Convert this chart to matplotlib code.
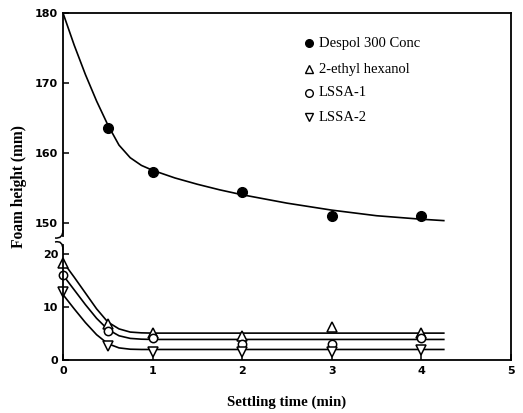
import matplotlib
matplotlib.use("Agg")
import matplotlib.pyplot as plt
from matplotlib.lines import Line2D
from matplotlib.path import Path
from matplotlib.patches import PathPatch

# ---- data ----
t_points = [0.5, 1, 2, 3, 4]
despol_pts = [163.6, 157.3, 154.4, 151.0, 151.0]
t_low = [0, 0.5, 1, 2, 3, 4]
ethyl_pts = [18.3, 6.7, 5.0, 4.5, 6.2, 5.0]
lssa1_pts = [16.1, 5.4, 4.0, 3.0, 3.0, 4.0]
lssa2_pts = [12.7, 2.6, 1.5, 1.5, 1.5, 1.8]

# fitted curves
t_despol_curve = [0, 0.125, 0.25, 0.375, 0.5, 0.625, 0.75, 0.875, 1.0, 1.25, 1.5,
                  1.75, 2.0, 2.5, 3.0, 3.5, 4.0, 4.25]
despol_curve = [180.0, 175.4, 171.2, 167.4, 164.0, 161.1, 159.3, 158.2, 157.5, 156.4,
                155.5, 154.7, 154.0, 152.8, 151.8, 151.0, 150.5, 150.3]
t_low_curve = [0, 0.125, 0.25, 0.375, 0.5, 0.625, 0.75, 0.875, 1.0, 2.0, 3.0, 4.0, 4.25]
ethyl_curve = [18.5, 15.6, 12.6, 9.6, 7.1, 5.8, 5.2, 5.05, 5.0, 5.0, 5.0, 5.0, 5.0]
lssa1_curve = [16.0, 13.2, 10.4, 7.8, 5.7, 4.5, 4.0, 3.85, 3.8, 3.8, 3.8, 3.8, 3.8]
lssa2_curve = [12.3, 9.6, 7.0, 4.7, 3.0, 2.2, 1.95, 1.9, 1.9, 1.9, 1.9, 1.9, 1.9]

labels = ["Despol 300 Conc", "2-ethyl hexanol", "LSSA-1", "LSSA-2"]
x_ticks = [0, 1, 2, 3, 4, 5]
upper_ticks = [150, 160, 170, 180]
lower_ticks = [0, 10, 20]

W, H = 523, 413
fig = plt.figure(figsize=(W / 100, H / 100), dpi=100)

L, R = 63, 511
top_up, bot_up = 13, 236
top_lo, bot_lo = 245, 359.5

def rect(top, bot):
    return [L / W, 1 - bot / H, (R - L) / W, (bot - top) / H]

ax_up = fig.add_axes(rect(top_up, bot_up))
ax_lo = fig.add_axes(rect(top_lo, bot_lo))

lw = 1.2

for ax in (ax_up, ax_lo):
    ax.set_xlim(0, 5)
    ax.spines["right"].set_visible(False)
    for s in ax.spines.values():
        s.set_linewidth(1.3)
    ax.tick_params(direction="in", length=4, width=1.1, right=False, top=False)

ax_up.set_ylim(148.1, 180)
ax_up.set_yticks(upper_ticks)
ax_up.spines["bottom"].set_visible(False)
ax_up.set_xticks([])
ax_lo.set_ylim(0, 21.7)
ax_lo.set_yticks(lower_ticks)
ax_lo.spines["top"].set_visible(False)
ax_lo.set_xticks(x_ticks)

for ax in (ax_up, ax_lo):
    for lab in ax.get_yticklabels() + ax.get_xticklabels():
        lab.set_fontfamily("DejaVu Sans")
        lab.set_fontweight("bold")
        lab.set_fontsize(8)
ax_lo.tick_params(axis="x", pad=5)

# curves
ax_up.plot(t_despol_curve, despol_curve, color="black", lw=lw)
ax_up.plot(t_points, despol_pts, "o", color="black", ms=7, ls="none")

ax_lo.plot(t_low_curve, ethyl_curve, color="black", lw=lw)
ax_lo.plot(t_low_curve, lssa1_curve, color="black", lw=lw)
ax_lo.plot(t_low_curve, lssa2_curve, color="black", lw=lw)
ax_lo.plot(t_low, ethyl_pts, "^", mfc="white", mec="black", mew=1.1, ms=6.5, ls="none", clip_on=False)
ax_lo.plot(t_low, lssa1_pts, "o", mfc="white", mec="black", mew=1.1, ms=6, ls="none", clip_on=False)
ax_lo.plot(t_low, lssa2_pts, "v", mfc="white", mec="black", mew=1.1, ms=6.5, ls="none", clip_on=False)

# continuous right frame line
fig.add_artist(Line2D([R / W, R / W], [1 - bot_lo / H, 1 - top_up / H],
                      transform=fig.transFigure, color="black", lw=1.3))

# break marks on left axis (figure pixel coords -> figure fraction)
def fp(x, y):
    return (x / W, 1 - y / H)

up_path = Path([fp(63, 230), fp(63, 239), fp(55, 238)],
               [Path.MOVETO, Path.CURVE3, Path.CURVE3])
lo_path = Path([fp(63, 250), fp(63, 240), fp(55, 242)],
               [Path.MOVETO, Path.CURVE3, Path.CURVE3])
for p in (up_path, lo_path):
    fig.add_artist(PathPatch(p, transform=fig.transFigure, fill=False, lw=1.1, color="black"))

# legend (manual)
leg_y = [43, 69, 93, 117]
leg_markers = [dict(marker="o", mfc="black"), dict(marker="^", mfc="white"),
               dict(marker="o", mfc="white"), dict(marker="v", mfc="white")]
for y, m, lab in zip(leg_y, leg_markers, labels):
    fig.add_artist(Line2D([309 / W], [1 - y / H], transform=fig.transFigure,
                          marker=m["marker"], mfc=m["mfc"], mec="black", mew=1.0,
                          ms=5.5, ls="none"))
    fig.text(319 / W, 1 - y / H, lab, family="Liberation Serif", size=10.5,
             va="center", ha="left")

fig.text(L / W + (R - L) / W / 2, 1 - 402 / H, "Settling time (min)",
         family="Liberation Serif", weight="bold", size=10.7, ha="center", va="center")
fig.text(19 / W, 1 - 187 / H, "Foam height (mm)", family="Liberation Serif",
         weight="bold", size=11.2, rotation=90, ha="center", va="center")

fig.savefig("out.png", dpi=100)
